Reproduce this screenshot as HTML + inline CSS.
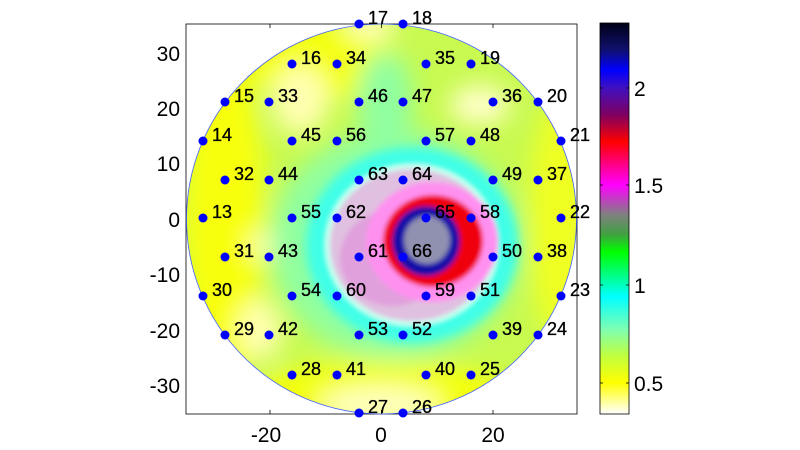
<!DOCTYPE html>
<html><head><meta charset="utf-8"><style>
html,body{margin:0;padding:0;background:#fff;}
svg{display:block;font-family:"Liberation Sans",sans-serif;}
</style></head><body>
<svg width="800" height="450" viewBox="0 0 800 450" xmlns="http://www.w3.org/2000/svg">
<defs>
<clipPath id="cc"><circle cx="381.5" cy="219" r="195"/></clipPath>
<filter id="b12" x="-50%" y="-50%" width="200%" height="200%"><feGaussianBlur stdDeviation="12"/></filter>
<filter id="b6" x="-50%" y="-50%" width="200%" height="200%"><feGaussianBlur stdDeviation="5"/></filter>
<filter id="b3" x="-50%" y="-50%" width="200%" height="200%"><feGaussianBlur stdDeviation="2.5"/></filter>
<linearGradient id="cb" x1="0" y1="0" x2="0" y2="1">
<stop offset="0" stop-color="#000018"/><stop offset=".069" stop-color="#101070"/>
<stop offset=".12" stop-color="#0000ff"/><stop offset=".166" stop-color="#4010c0"/>
<stop offset=".235" stop-color="#800060"/><stop offset=".304" stop-color="#ff0000"/>
<stop offset=".414" stop-color="#ff00ff"/><stop offset=".49" stop-color="#808080"/>
<stop offset=".54" stop-color="#40a040"/><stop offset=".586" stop-color="#00ff00"/>
<stop offset=".70" stop-color="#00ffff"/><stop offset=".785" stop-color="#80ffb0"/>
<stop offset=".85" stop-color="#c0ff40"/><stop offset=".92" stop-color="#ffff00"/>
<stop offset="1" stop-color="#ffffff"/></linearGradient>
</defs>
<rect x="186" y="24" width="391" height="390" fill="#fff" stroke="#000" stroke-width="0.8"/>
<g clip-path="url(#cc)">
<rect x="180" y="20" width="400" height="400" fill="#c8fa50"/>
<g filter="url(#b12)">
<ellipse cx="225" cy="220" rx="40" ry="170" fill="#f8ff10"/>
<ellipse cx="560" cy="220" rx="30" ry="120" fill="#f0ff20"/>
<ellipse cx="380" cy="395" rx="130" ry="35" fill="#f4ff10"/>
<ellipse cx="320" cy="60" rx="80" ry="40" fill="#f4ff10"/>
<ellipse cx="385" cy="100" rx="28" ry="50" fill="#90ffa0"/>
<ellipse cx="395" cy="245" rx="125" ry="115" fill="#90ffa0"/>
<ellipse cx="300" cy="100" rx="28" ry="35" fill="#ffffb0"/>
<ellipse cx="480" cy="105" rx="30" ry="20" fill="#ffffc8"/>
<ellipse cx="260" cy="330" rx="22" ry="30" fill="#ffffb0"/>
<ellipse cx="380" cy="405" rx="60" ry="18" fill="#ffffc0"/>
<ellipse cx="370" cy="24" rx="25" ry="14" fill="#ffffc0"/>
<ellipse cx="262" cy="245" rx="12" ry="12" fill="#ffffc0"/>
</g>
<g filter="url(#b6)">
<ellipse cx="412" cy="245" rx="106" ry="98" fill="#40ffe8"/>
</g>
<g filter="url(#b3)">
<ellipse cx="412" cy="245" rx="88" ry="82" fill="#c8fff0"/>
<ellipse cx="412" cy="245" rx="82" ry="76" fill="#e0c0e0"/>
<ellipse cx="392" cy="258" rx="52" ry="48" fill="#e0a0dc"/>
<ellipse cx="432" cy="242" rx="66" ry="60" fill="#ff90f0"/>
<ellipse cx="433" cy="241" rx="50" ry="46" fill="#f00010"/>
<ellipse cx="426" cy="241" rx="34" ry="35" fill="#1810a8"/>
<ellipse cx="427" cy="240" rx="23" ry="24" fill="#9090b0"/>
</g>
</g>
<circle cx="381.5" cy="219" r="195" fill="none" stroke="#4060ff" stroke-width="0.8"/>
<g stroke="#000" stroke-width="0.8">
<line x1="270" y1="414" x2="270" y2="410"/><line x1="381.5" y1="414" x2="381.5" y2="410"/><line x1="493" y1="414" x2="493" y2="410"/>
<line x1="270" y1="24" x2="270" y2="28"/><line x1="381.5" y1="24" x2="381.5" y2="28"/><line x1="493" y1="24" x2="493" y2="28"/>
</g>
<g font-size="21" fill="#000" text-anchor="end">
<text x="180" y="61">30</text><text x="180" y="116">20</text><text x="180" y="171">10</text>
<text x="180" y="227">0</text><text x="180" y="282">-10</text><text x="180" y="338">-20</text><text x="180" y="393">-30</text>
</g>
<g font-size="21" fill="#000" text-anchor="middle">
<text x="266" y="442">-20</text><text x="381" y="442">0</text><text x="493" y="442">20</text>
</g>
<g fill="#0000ff">
<circle cx="359" cy="24" r="4.5"/><circle cx="403" cy="24" r="4.5"/>
<circle cx="292" cy="64" r="4.5"/><circle cx="337" cy="64" r="4.5"/><circle cx="426" cy="64" r="4.5"/><circle cx="471" cy="64" r="4.5"/>
<circle cx="225" cy="102" r="4.5"/><circle cx="269" cy="102" r="4.5"/><circle cx="359" cy="102" r="4.5"/><circle cx="403" cy="102" r="4.5"/><circle cx="493" cy="102" r="4.5"/><circle cx="538" cy="102" r="4.5"/>
<circle cx="203" cy="141" r="4.5"/><circle cx="292" cy="141" r="4.5"/><circle cx="337" cy="141" r="4.5"/><circle cx="426" cy="141" r="4.5"/><circle cx="471" cy="141" r="4.5"/><circle cx="561" cy="141" r="4.5"/>
<circle cx="225" cy="180" r="4.5"/><circle cx="269" cy="180" r="4.5"/><circle cx="359" cy="180" r="4.5"/><circle cx="403" cy="180" r="4.5"/><circle cx="493" cy="180" r="4.5"/><circle cx="538" cy="180" r="4.5"/>
<circle cx="203" cy="218" r="4.5"/><circle cx="292" cy="218" r="4.5"/><circle cx="337" cy="218" r="4.5"/><circle cx="426" cy="218" r="4.5"/><circle cx="471" cy="218" r="4.5"/><circle cx="561" cy="218" r="4.5"/>
<circle cx="225" cy="257" r="4.5"/><circle cx="269" cy="257" r="4.5"/><circle cx="359" cy="257" r="4.5"/><circle cx="403" cy="257" r="4.5"/><circle cx="493" cy="257" r="4.5"/><circle cx="538" cy="257" r="4.5"/>
<circle cx="203" cy="296" r="4.5"/><circle cx="292" cy="296" r="4.5"/><circle cx="337" cy="296" r="4.5"/><circle cx="426" cy="296" r="4.5"/><circle cx="471" cy="296" r="4.5"/><circle cx="561" cy="296" r="4.5"/>
<circle cx="225" cy="335" r="4.5"/><circle cx="269" cy="335" r="4.5"/><circle cx="359" cy="335" r="4.5"/><circle cx="403" cy="335" r="4.5"/><circle cx="493" cy="335" r="4.5"/><circle cx="538" cy="335" r="4.5"/>
<circle cx="292" cy="375" r="4.5"/><circle cx="337" cy="375" r="4.5"/><circle cx="426" cy="375" r="4.5"/><circle cx="471" cy="375" r="4.5"/>
<circle cx="359" cy="413" r="4.5"/><circle cx="403" cy="413" r="4.5"/>
</g>
<g font-size="18" fill="#000" stroke="#000" stroke-width="0.3">
<text x="368" y="24">17</text><text x="412" y="24">18</text>
<text x="301" y="64">16</text><text x="346" y="64">34</text><text x="435" y="64">35</text><text x="480" y="64">19</text>
<text x="234" y="102">15</text><text x="278" y="102">33</text><text x="368" y="102">46</text><text x="412" y="102">47</text><text x="502" y="102">36</text><text x="547" y="102">20</text>
<text x="212" y="141">14</text><text x="301" y="141">45</text><text x="346" y="141">56</text><text x="435" y="141">57</text><text x="480" y="141">48</text><text x="570" y="141">21</text>
<text x="234" y="180">32</text><text x="278" y="180">44</text><text x="368" y="180">63</text><text x="412" y="180">64</text><text x="502" y="180">49</text><text x="547" y="180">37</text>
<text x="212" y="218">13</text><text x="301" y="218">55</text><text x="346" y="218">62</text><text x="435" y="218">65</text><text x="480" y="218">58</text><text x="570" y="218">22</text>
<text x="234" y="257">31</text><text x="278" y="257">43</text><text x="368" y="257">61</text><text x="412" y="257">66</text><text x="502" y="257">50</text><text x="547" y="257">38</text>
<text x="212" y="296">30</text><text x="301" y="296">54</text><text x="346" y="296">60</text><text x="435" y="296">59</text><text x="480" y="296">51</text><text x="570" y="296">23</text>
<text x="234" y="335">29</text><text x="278" y="335">42</text><text x="368" y="335">53</text><text x="412" y="335">52</text><text x="502" y="335">39</text><text x="547" y="335">24</text>
<text x="301" y="375">28</text><text x="346" y="375">41</text><text x="435" y="375">40</text><text x="480" y="375">25</text>
<text x="368" y="413">27</text><text x="412" y="413">26</text>
</g>
<rect x="600" y="23" width="29" height="391" fill="url(#cb)" stroke="#000" stroke-width="0.8"/>
<g stroke="#000" stroke-width="0.8">
<line x1="600" y1="88" x2="603" y2="88"/><line x1="626" y1="88" x2="629" y2="88"/>
<line x1="600" y1="185" x2="603" y2="185"/><line x1="626" y1="185" x2="629" y2="185"/>
<line x1="600" y1="285" x2="603" y2="285"/><line x1="626" y1="285" x2="629" y2="285"/>
<line x1="600" y1="383" x2="603" y2="383"/><line x1="626" y1="383" x2="629" y2="383"/>
</g>
<g font-size="21" fill="#000">
<text x="634" y="96">2</text><text x="634" y="193">1.5</text><text x="634" y="293">1</text><text x="634" y="391">0.5</text>
</g>
</svg>
</body></html>
